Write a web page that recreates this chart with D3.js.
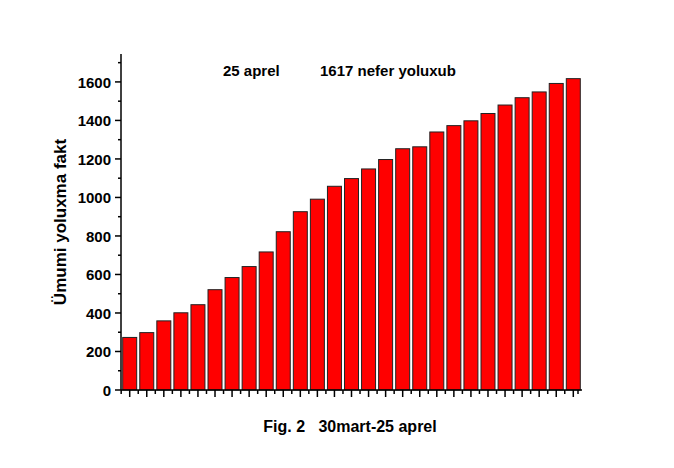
<!DOCTYPE html>
<html><head><meta charset="utf-8">
<script src="https://cdn.jsdelivr.net/npm/d3@7"></script>
<style>body{margin:0;background:#fff}text{font-family:Arial,"Liberation Sans",sans-serif;font-weight:bold;white-space:pre}</style>
</head><body>
<script>
// gunler ve yoluxma sayi
var days = d3.range(1, 28);
var cases = [273, 298, 359, 401, 443, 521, 584, 641, 717, 822, 926, 991, 1058, 1098, 1148, 1197, 1253, 1263, 1340, 1373, 1398, 1436, 1480, 1518, 1548, 1592, 1617];
var yTicks = [0, 200, 400, 600, 800, 1000, 1200, 1400, 1600];

var svg = d3.select("body").append("svg").attr("width", 674).attr("height", 468);
var mLeft = 121, mRight = 582, mTop = 54, mBottom = 390;

var x = d3.scaleBand().domain(days).range([mLeft, mRight]).paddingInner(0.18).paddingOuter(0.1);
var y = d3.scaleLinear().domain([0, 1745]).range([mBottom, mTop]);

svg.selectAll(".bar").data(cases).enter().append("rect")
  .attr("x", (d, i) => x(days[i]))
  .attr("y", d => y(d))
  .attr("width", x.bandwidth())
  .attr("height", d => mBottom - y(d))
  .attr("fill", "#ff0000").attr("stroke", "#222").attr("stroke-width", 1);

// y oxu
var g = svg.append("g").attr("stroke", "#000").attr("stroke-width", 1.5);
g.append("line").attr("x1", mLeft).attr("x2", mLeft).attr("y1", mTop).attr("y2", mBottom);
g.append("line").attr("x1", mLeft).attr("x2", mRight).attr("y1", mBottom).attr("y2", mBottom);
d3.range(0, 1701, 100).forEach(function(v) {
  var major = v % 200 === 0;
  g.append("line").attr("x1", mLeft).attr("x2", mLeft - (major ? 6 : 3)).attr("y1", y(v)).attr("y2", y(v));
});
svg.selectAll(".yl").data(yTicks).enter().append("text")
  .attr("x", mLeft - 10).attr("y", d => y(d) + 6).attr("text-anchor", "end")
  .attr("font-size", 15).text(d => d);

// x oxu tikleri
var step = x.step();
days.forEach(function(d) {
  var c = x(d) + x.bandwidth() / 2;
  g.append("line").attr("x1", c).attr("x2", c).attr("y1", mBottom).attr("y2", mBottom + 7);
  g.append("line").attr("x1", c - step / 2).attr("x2", c - step / 2).attr("y1", mBottom).attr("y2", mBottom + 4);
});
g.append("line").attr("x1", mRight - 4).attr("x2", mRight - 4).attr("y1", mBottom).attr("y2", mBottom + 4);

svg.append("text").attr("transform", "translate(66,222) rotate(-90)").attr("text-anchor", "middle")
  .attr("font-size", 17).text("Ümumi yoluxma fakt");
svg.append("text").attr("x", 223).attr("y", 76).attr("font-size", 15).text("25 aprel");
svg.append("text").attr("x", 320).attr("y", 76).attr("font-size", 15).text("1617 nefer yoluxub");
svg.append("text").attr("x", 350).attr("y", 432).attr("text-anchor", "middle").attr("font-size", 16).text("Fig. 2   30mart-25 aprel");
</script>
</body></html>
